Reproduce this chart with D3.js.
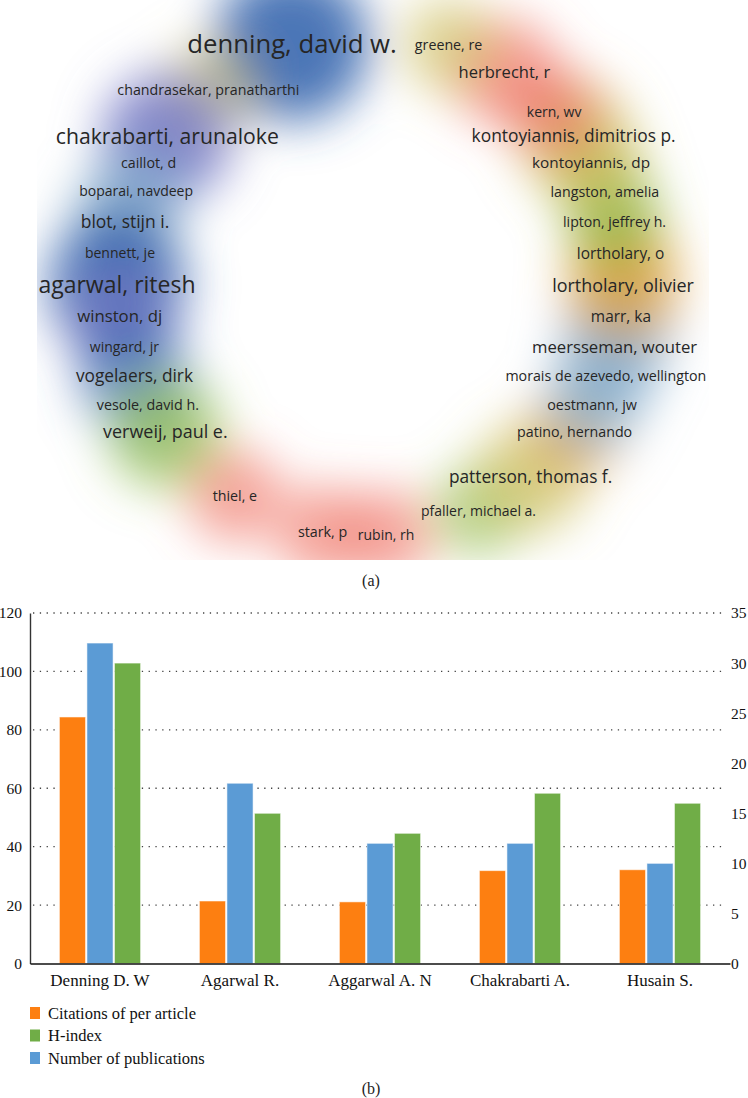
<!DOCTYPE html>
<html>
<head>
<meta charset="utf-8">
<script src="https://cdn.jsdelivr.net/npm/d3@7"></script>
<style>
  body { margin: 0; background: #fff; }
  svg { display: block; }
</style>
</head>
<body>
<svg id="chart" width="748" height="1098"></svg>
<script>
// ---- (a) co-authorship density map, VOS style map coordinates ----
var authorNames = [
  'denning, david w.', 'chandrasekar, pranatharthi', 'chakrabarti, arunaloke', 'caillot, d',
  'boparai, navdeep', 'blot, stijn i.', 'bennett, je', 'agarwal, ritesh', 'winston, dj',
  'wingard, jr', 'vogelaers, dirk', 'vesole, david h.', 'verweij, paul e.', 'thiel, e',
  'stark, p', 'rubin, rh', 'pfaller, michael a.', 'patterson, thomas f.', 'patino, hernando',
  'oestmann, jw', 'morais de azevedo, wellington', 'meersseman, wouter', 'marr, ka',
  'lortholary, olivier', 'lortholary, o', 'lipton, jeffrey h.', 'langston, amelia',
  'kontoyiannis, dp', 'kontoyiannis, dimitrios p.', 'kern, wv', 'herbrecht, r', 'greene, re'
];
var authorX = [
  -0.241, -0.490, -0.612, -0.668, -0.705, -0.738, -0.753, -0.762, -0.754, -0.740, -0.710,
  -0.670, -0.618, -0.411, -0.150, 0.039, 0.314, 0.469, 0.600, 0.652, 0.693, 0.719, 0.738,
  0.744, 0.737, 0.719, 0.690, 0.649, 0.597, 0.539, 0.391, 0.225
];
var authorY = [
  0.843, 0.679, 0.512, 0.418, 0.318, 0.207, 0.096, -0.018, -0.129, -0.239, -0.343,
  -0.446, -0.543, -0.771, -0.900, -0.911, -0.825, -0.704, -0.543, -0.446, -0.343, -0.239,
  -0.132, -0.021, 0.096, 0.207, 0.314, 0.418, 0.514, 0.600, 0.743, 0.839
];
var authorWeight = [
  9.75, 0.2, 6.0, 0.2, 0.0, 2.9, 0.0, 7.5, 2.3, 0.0, 2.75, 0.25, 3.3, 0.2, 0.25, 0.0,
  0.0, 2.75, 0.2, 0.3, 0.2, 2.25, 1.2, 3.3, 1.2, 0.1, 0.2, 1.1, 2.8, 0.0, 2.1, 0.2
];
var authorCluster = [
  'blue', 'yellow', 'purple', 'purple', 'lightblue', 'lightblue', 'blue', 'blue', 'purple',
  'purple', 'blue', 'lightblue', 'green', 'red', 'red', 'red', 'green', 'yellow', 'orange',
  'lightblue', 'lightblue', 'lightblue', 'lightblue', 'orange', 'orange', 'green', 'green',
  'yellow', 'yellow', 'red', 'red', 'yellow'
];
var clusterColors = {
  blue: '#3b69b0', purple: '#7478c4', yellow: '#cbbd5c', red: '#ef6f62',
  green: '#8dbb4c', orange: '#e0a13e', lightblue: '#88aecd'
};

// ---- (b) top authors ----
var categories = ['Denning D. W', 'Agarwal R.', 'Aggarwal A. N', 'Chakrabarti A.', 'Husain S.'];
var citationsPerArticle = [84.4, 21.4, 21.1, 31.8, 32.1];
var publications = [32, 18, 12, 12, 10];
var hIndex = [30, 15, 13, 17, 16];
var leftTicks = [0, 20, 40, 60, 80, 100, 120];
var rightTicks = [0, 5, 10, 15, 20, 25, 30, 35];
var legendNames = ['Citations of per article', 'H-index', 'Number of publications'];

var svg = d3.select('#chart');
var serif = '"Liberation Serif", "Times New Roman", serif';


/**
 * Density view: blurred cluster blobs under the author labels
 */
function drawDensityMap() {
  var mx = d3.scaleLinear().domain([-1, 1]).range([37, 709]);
  var my = d3.scaleLinear().domain([-1, 1]).range([560, 0]);
  var radius = d3.scaleLinear().domain([0, 10]).range([46, 78]);
  var alpha = d3.scaleLinear().domain([0, 10]).range([0.62, 0.92]);
  var fontSize = d3.scaleLinear().domain([0, 10]).range([14, 26]);

  var defs = svg.append('defs');
  defs.append('clipPath').attr('id', 'map-clip')
      .append('rect').attr('x', mx(-1)).attr('y', my(1))
      .attr('width', mx(1) - mx(-1)).attr('height', my(-1) - my(1));
  defs.append('filter').attr('id', 'density-blur')
      .attr('x', '-50%').attr('y', '-50%').attr('width', '200%').attr('height', '200%')
      .append('feGaussianBlur').attr('stdDeviation', 24);

  var nodes = authorNames.map(function(name, i) {
    return {name: name, x: authorX[i], y: authorY[i], w: authorWeight[i], c: authorCluster[i]};
  });

  var map = svg.append('g').attr('clip-path', 'url(#map-clip)');
  map.append('g').attr('filter', 'url(#density-blur)')
      .selectAll('circle').data(nodes).join('circle')
      .attr('cx', function(d) { return mx(d.x); })
      .attr('cy', function(d) { return my(d.y); })
      .attr('r', function(d) { return radius(d.w); })
      .attr('fill', function(d) { return clusterColors[d.c]; })
      .attr('fill-opacity', function(d) { return alpha(d.w); });

  svg.append('g').selectAll('text').data(nodes).join('text')
      .attr('x', function(d) { return mx(d.x); })
      .attr('y', function(d) { return my(d.y); })
      .attr('dy', '0.35em')
      .attr('text-anchor', 'middle')
      .style('font-family', '"Open Sans", sans-serif')
      .style('font-size', function(d) { return fontSize(d.w) + 'px'; })
      .attr('fill', '#262626')
      .text(function(d) { return d.name; });

  svg.append('text').attr('x', 371).attr('y', 586).attr('text-anchor', 'middle')
      .style('font-family', serif).style('font-size', '16px').attr('fill', '#222')
      .text('(a)');
}


/**
 * Grouped bars with two value axes
 */
function drawBars() {
  var yLeft = d3.scaleLinear().domain([0, 120]).range([963.5, 613]);
  var yRight = d3.scaleLinear().domain([0, 35]).range([963.5, 613]);
  var x0 = d3.scaleBand().domain(categories).range([30, 730]).paddingInner(0.42).paddingOuter(0.21);

  var series = [
    {key: 'cit', values: citationsPerArticle, y: yLeft, color: '#fd7f11'},
    {key: 'pub', values: publications, y: yRight, color: '#5b9bd5'},
    {key: 'h', values: hIndex, y: yRight, color: '#70ad47'}
  ];
  var x1 = d3.scaleBand().domain(series.map(function(s) { return s.key; }))
      .range([0, x0.bandwidth()]).paddingInner(0.05);

  // dotted grid on the left axis ticks
  svg.append('g').selectAll('line').data(leftTicks.slice(1)).join('line')
      .attr('x1', 33).attr('x2', 726)
      .attr('y1', function(d) { return yLeft(d); })
      .attr('y2', function(d) { return yLeft(d); })
      .attr('stroke', '#444').attr('stroke-width', 1.3)
      .attr('stroke-dasharray', '1.3 5.5');

  series.forEach(function(s) {
    svg.append('g').selectAll('rect').data(s.values).join('rect')
        .attr('x', function(d, i) { return x0(categories[i]) + x1(s.key); })
        .attr('y', function(d) { return s.y(d); })
        .attr('width', x1.bandwidth())
        .attr('height', function(d) { return s.y(0) - s.y(d); })
        .attr('fill', s.color)
        .attr('stroke', '#fff').attr('stroke-opacity', 0.55).attr('stroke-width', 1);
  });

  var left = svg.append('g').attr('transform', 'translate(30,0)')
      .call(d3.axisLeft(yLeft).tickValues(leftTicks).tickSize(0).tickPadding(8));
  left.select('.domain').attr('stroke', '#333').attr('stroke-width', 1.4);
  left.selectAll('text').style('font-family', serif).style('font-size', '15.5px').attr('fill', '#111');

  var right = svg.append('g').attr('transform', 'translate(729,0)')
      .call(d3.axisRight(yRight).tickValues(rightTicks).tickSize(0).tickPadding(2));
  right.select('.domain').remove();
  right.selectAll('text').style('font-family', serif).style('font-size', '15.5px').attr('fill', '#111');

  var bottom = svg.append('g').attr('transform', 'translate(0,963.5)')
      .call(d3.axisBottom(x0).tickSize(0).tickPadding(10).tickSizeOuter(0));
  bottom.select('.domain').attr('stroke', '#111').attr('stroke-width', 1.4);
  bottom.selectAll('text').style('font-family', serif).style('font-size', '17px').attr('fill', '#111');

  var legendColors = ['#fd7f11', '#70ad47', '#5b9bd5'];
  var legend = svg.append('g').selectAll('g').data(legendNames).join('g')
      .attr('transform', function(d, i) { return 'translate(30,' + (1013 + i * 22.5) + ')'; });
  legend.append('rect').attr('x', 0).attr('y', -6).attr('width', 10).attr('height', 12)
      .attr('fill', function(d, i) { return legendColors[i]; });
  legend.append('text').attr('x', 18).attr('dy', '0.35em')
      .style('font-family', serif).style('font-size', '16.5px').attr('fill', '#111')
      .text(function(d) { return d; });

  svg.append('text').attr('x', 371).attr('y', 1094).attr('text-anchor', 'middle')
      .style('font-family', serif).style('font-size', '16px').attr('fill', '#222')
      .text('(b)');
}

drawDensityMap();
drawBars();
</script>
</body>
</html>
